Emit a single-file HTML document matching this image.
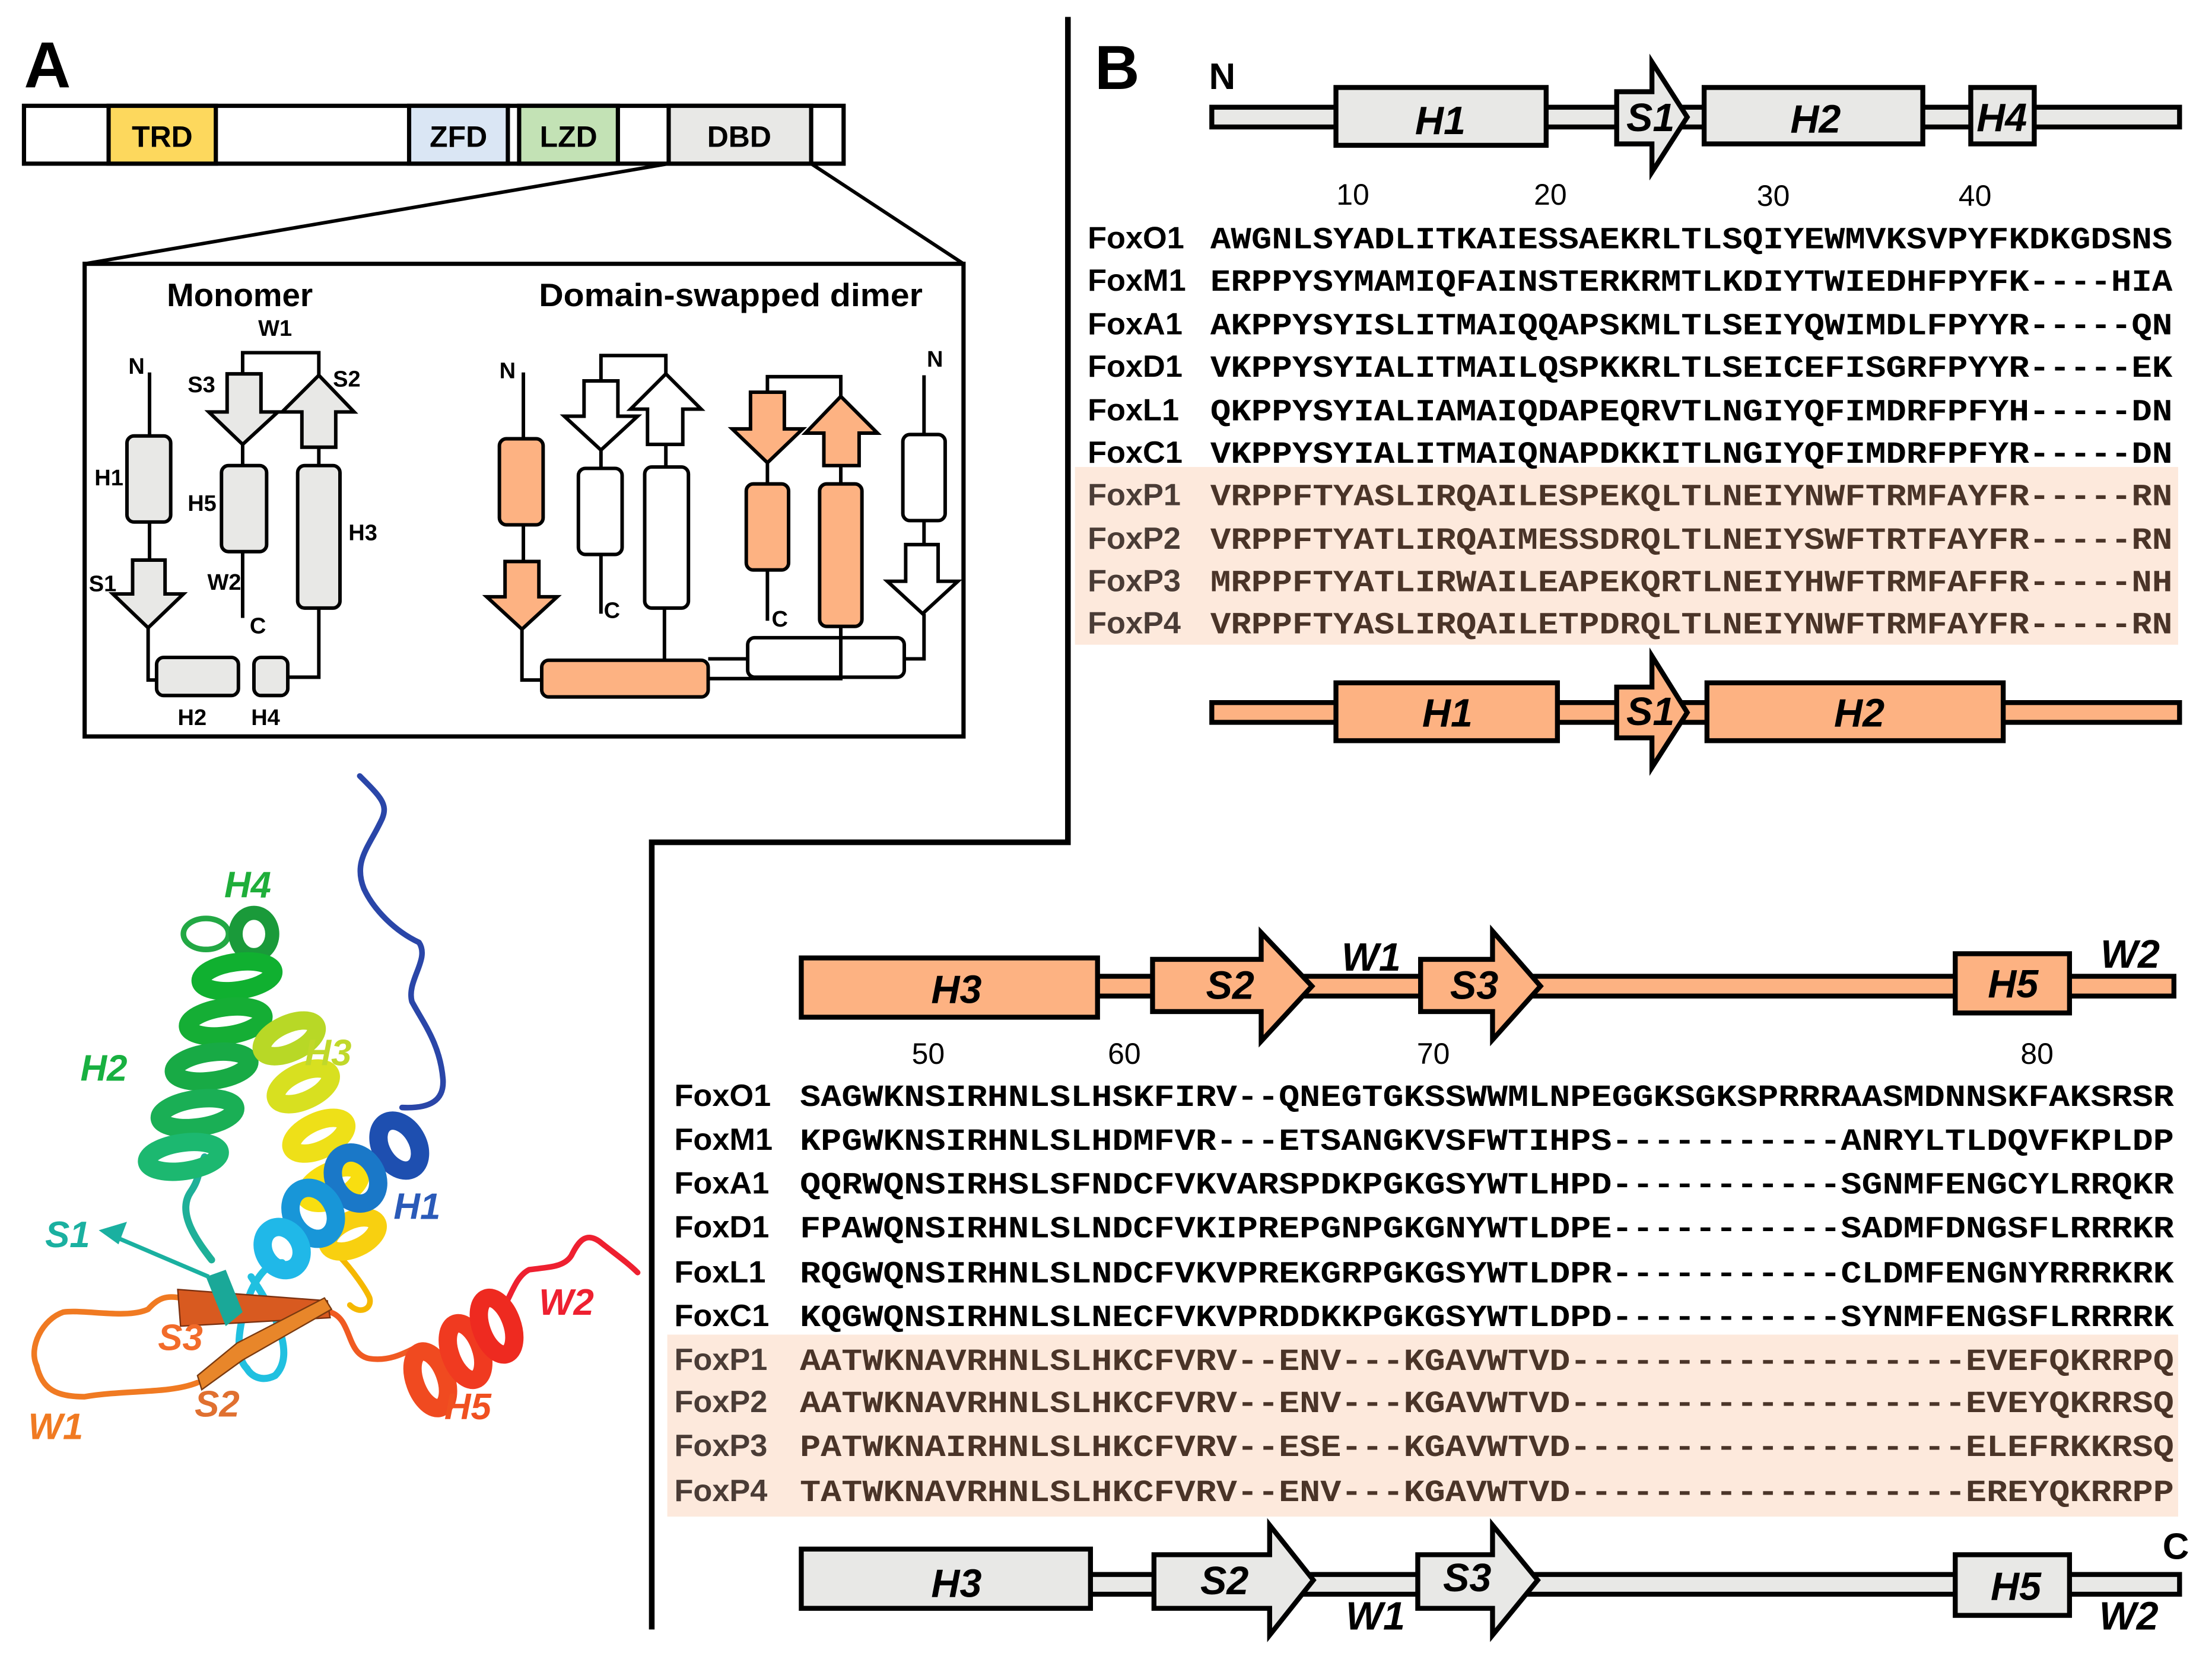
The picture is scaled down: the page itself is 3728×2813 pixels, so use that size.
<!DOCTYPE html>
<html><head><meta charset="utf-8"><style>
html,body{margin:0;padding:0;background:#fff;}
svg{display:block;}
.sn{font-family:"Liberation Sans",sans-serif;font-weight:bold;}
.it{font-family:"Liberation Sans",sans-serif;font-weight:bold;font-style:italic;}
.mono{font-family:"Liberation Mono",monospace;font-weight:bold;}
</style></head><body>
<svg width="3728" height="2813" viewBox="0 0 1568 1183" preserveAspectRatio="none" xmlns="http://www.w3.org/2000/svg">
<rect width="1568" height="1183" fill="#fff"/>
<path d="M757 12 V597 H462 V1155" fill="none" stroke="#000" stroke-width="4"/>

<!-- Panel A -->
<text x="17" y="62" class="sn" font-size="46">A</text>
<g stroke="#000" stroke-width="3">
<rect x="17" y="75" width="581" height="41" fill="#fff"/>
<rect x="77" y="75" width="76" height="41" fill="#fdd85d"/>
<rect x="290" y="75" width="70" height="41" fill="#dae6f4"/>
<rect x="368" y="75" width="70" height="41" fill="#c3e2b5"/>
<rect x="474" y="75" width="101" height="41" fill="#e8e8e6"/>
</g>
<g class="sn" font-size="21" text-anchor="middle">
<text x="115" y="104">TRD</text><text x="325" y="104">ZFD</text><text x="403" y="104">LZD</text><text x="524" y="104">DBD</text>
</g>
<line x1="474" y1="116" x2="60" y2="187" stroke="#000" stroke-width="2.5"/>
<line x1="575" y1="116" x2="683" y2="187" stroke="#000" stroke-width="2.5"/>
<rect x="60" y="187" width="623" height="335" fill="#fff" stroke="#000" stroke-width="3"/>
<text x="170" y="217" class="sn" font-size="23" text-anchor="middle">Monomer</text>
<text x="518" y="217" class="sn" font-size="23" text-anchor="middle" textLength="272" lengthAdjust="spacingAndGlyphs">Domain-swapped dimer</text>

<!-- Monomer -->
<g stroke="#000" stroke-width="2.5" fill="none">
<path d="M106 264 V397"/>
<path d="M105 445 V482 H111"/>
<path d="M204 480 H226 V431"/>
<path d="M226 330 V317"/>
<path d="M226 266 V250 H172 V265"/>
<path d="M172 315 V330"/>
<path d="M172 391 V438"/>
</g>
<g stroke="#000" stroke-width="2.5" fill="#e8e8e6">
<rect x="90" y="309" width="31" height="61" rx="5"/>
<polygon points="94,397 117,397 117,421 130,421 105,445 80,421 94,421"/>
<rect x="111" y="466" width="58" height="27" rx="5"/>
<rect x="180" y="466" width="24" height="27" rx="5"/>
<rect x="211" y="330" width="30" height="101" rx="5"/>
<polygon points="214,317 238,317 238,292 251,292 226,266 200,292 214,292"/>
<polygon points="161,265 185,265 185,292 197,292 172,315 148,292 161,292"/>
<rect x="157" y="330" width="32" height="61" rx="5"/>
</g>
<g class="sn" font-size="16">
<text x="91" y="265">N</text><text x="133" y="278">S3</text><text x="236" y="274">S2</text>
<text x="183" y="238">W1</text><text x="67" y="344">H1</text><text x="133" y="362">H5</text>
<text x="247" y="383">H3</text><text x="63" y="419">S1</text><text x="147" y="418">W2</text>
<text x="177" y="449">C</text><text x="126" y="514">H2</text><text x="178" y="514">H4</text>
</g>

<!-- Dimer -->
<g stroke="#000" stroke-width="2.5" fill="none">
<path d="M371 264 V311"/>
<path d="M371 372 V398"/>
<path d="M370 446 V482 H384"/>
<path d="M502 481 H596 V444"/>
<path d="M471 468 V431"/>
<path d="M472 331 V315"/>
<path d="M472 265 V252 H426 V270"/>
<path d="M426 319 V332"/>
<path d="M426 393 V435"/>
<path d="M502 467 H530"/>
<path d="M641 467 H655 V435"/>
<path d="M544 278 V267 H596 V281"/>
<path d="M544 328 V343"/>
<path d="M544 404 V440"/>
<path d="M596 330 V343"/>
<path d="M655 266 V308"/>
<path d="M655 369 V386"/>
</g>
<g stroke="#000" stroke-width="2.5">
<rect x="354" y="311" width="31" height="61" rx="5" fill="#fdb282"/>
<polygon points="358,398 382,398 382,423 395,423 370,446 345,423 358,423" fill="#fdb282"/>
<rect x="530" y="452" width="111" height="28" rx="5" fill="#fff"/>
<rect x="384" y="468" width="118" height="26" rx="5" fill="#fdb282"/>
<rect x="457" y="331" width="31" height="100" rx="5" fill="#fff"/>
<polygon points="459,315 484,315 484,290 497,290 472,265 447,290 459,290" fill="#fff"/>
<polygon points="414,270 438,270 438,295 452,295 426,319 400,295 414,295" fill="#fff"/>
<rect x="410" y="332" width="31" height="61" rx="5" fill="#fff"/>
<polygon points="532,278 556,278 556,304 569,304 544,328 519,304 532,304" fill="#fdb282"/>
<polygon points="584,330 609,330 609,307 622,307 596,281 571,307 584,307" fill="#fdb282"/>
<rect x="581" y="343" width="30" height="101" rx="5" fill="#fdb282"/>
<rect x="529" y="343" width="30" height="61" rx="5" fill="#fdb282"/>
<rect x="640" y="308" width="30" height="61" rx="5" fill="#fff"/>
<polygon points="642,386 665,386 665,412 679,412 654,435 629,412 642,412" fill="#fff"/>
</g>
<line x1="596" y1="444" x2="596" y2="481" stroke="#000" stroke-width="2.5"/>
<g class="sn" font-size="16">
<text x="354" y="268">N</text><text x="657" y="260">N</text><text x="428" y="438">C</text><text x="547" y="444">C</text>
</g>

<!-- Protein cartoon -->
<g fill="none" stroke-linecap="round" stroke-linejoin="round">
<path d="M255 550 C270 565 275 570 271 580 C262 600 250 610 258 630 C265 645 280 660 297 668 C305 680 288 695 292 710 C300 725 312 740 314 765 C315 780 305 786 285 785" stroke="#2a46a8" stroke-width="4"/>
<path d="M26 968 C20 955 30 935 45 930 C60 928 90 935 105 928 C112 920 118 918 128 920" stroke="#f07a22" stroke-width="4"/>
<path d="M26 968 C30 985 40 990 60 990 C90 985 120 988 140 980" stroke="#f07a22" stroke-width="4"/>
<path d="M234 930 C250 935 245 960 262 963 C275 965 285 960 295 955" stroke="#f05a22" stroke-width="4"/>
<path d="M355 930 C362 920 365 905 375 900 C390 898 400 898 405 890 C410 880 415 873 425 880 C435 888 445 895 452 902" stroke="#ee2030" stroke-width="4"/>
<path d="M150 893 C140 880 125 860 135 845 C142 835 140 830 145 820" stroke="#1eb098" stroke-width="5"/>
<path d="M175 970 C165 960 170 935 178 915 C185 900 192 895 200 895" stroke="#20c0e0" stroke-width="5"/>
<path d="M178 905 C195 930 210 960 195 975 C185 980 178 975 175 970" stroke="#20c0e0" stroke-width="5"/>
<path d="M240 890 C250 900 260 915 262 920 C264 928 255 932 248 925" stroke="#f5b800" stroke-width="4"/>
</g>
<polygon points="126,914 232,922 234,934 128,940" fill="#d85a20" stroke="#7a3010" stroke-width="1"/>
<polygon points="140,975 168,952 230,920 235,928 172,964 143,985" fill="#e8862a" stroke="#7a3a10" stroke-width="1"/>
<polygon points="146,905 160,900 172,930 160,940" fill="#1aa898"/>
<g fill="none" stroke-width="13">
<ellipse cx="146" cy="662" rx="16" ry="11" stroke="#22a844" stroke-width="4"/>
<ellipse cx="180" cy="662" rx="13" ry="15" stroke="#1a9a3a" stroke-width="10"/>
<ellipse cx="168" cy="692" rx="26" ry="10" transform="rotate(-8 168 692)" stroke="#10b030"/>
<ellipse cx="160" cy="724" rx="27" ry="10" transform="rotate(-8 160 724)" stroke="#15ae35"/>
<ellipse cx="150" cy="756" rx="27" ry="10" transform="rotate(-8 150 756)" stroke="#18aa45"/>
<ellipse cx="140" cy="789" rx="27" ry="10" transform="rotate(-8 140 789)" stroke="#1aaf55"/>
<ellipse cx="130" cy="820" rx="26" ry="10" transform="rotate(-8 130 820)" stroke="#1cb870"/>
<ellipse cx="205" cy="736" rx="21" ry="10" transform="rotate(-25 205 736)" stroke="#b8d826"/>
<ellipse cx="215" cy="770" rx="21" ry="10" transform="rotate(-25 215 770)" stroke="#d8e020"/>
<ellipse cx="226" cy="805" rx="21" ry="10" transform="rotate(-25 226 805)" stroke="#eee018"/>
<ellipse cx="236" cy="840" rx="21" ry="10" transform="rotate(-25 236 840)" stroke="#f8de10"/>
<ellipse cx="250" cy="875" rx="19" ry="10" transform="rotate(-25 250 875)" stroke="#f8d010"/>
<ellipse cx="283" cy="812" rx="13" ry="19" transform="rotate(-30 283 812)" stroke="#1e4fb0"/>
<ellipse cx="252" cy="835" rx="15" ry="19" transform="rotate(-30 252 835)" stroke="#1a78c8"/>
<ellipse cx="222" cy="860" rx="15" ry="19" transform="rotate(-30 222 860)" stroke="#1896d8"/>
<ellipse cx="200" cy="885" rx="13" ry="16" transform="rotate(-30 200 885)" stroke="#20b8e8"/>
<ellipse cx="305" cy="978" rx="11" ry="21" transform="rotate(-20 305 978)" stroke="#f04a20"/>
<ellipse cx="330" cy="958" rx="11" ry="21" transform="rotate(-20 330 958)" stroke="#f03a20"/>
<ellipse cx="352" cy="940" rx="11" ry="21" transform="rotate(-20 352 940)" stroke="#ee2a20"/>
</g>
<line x1="148" y1="905" x2="80" y2="876" stroke="#1ab0a0" stroke-width="3"/>
<polygon points="70,872 90,866 84,882" fill="#1ab0a0"/>
<g class="it" font-size="26">
<text x="159" y="636" fill="#1fae3a">H4</text>
<text x="57" y="766" fill="#18b040">H2</text>
<text x="216" y="755" fill="#c0d82a">H3</text>
<text x="279" y="864" fill="#2a5ab8">H1</text>
<text x="32" y="884" fill="#1ab0a0">S1</text>
<text x="112" y="957" fill="#f26b2a">S3</text>
<text x="138" y="1004" fill="#e07030">S2</text>
<text x="20" y="1020" fill="#f07a22">W1</text>
<text x="382" y="932" fill="#ee2030">W2</text>
<text x="315" y="1006" fill="#f05020">H5</text>
</g>

<!-- Panel B top -->
<text x="776" y="63" class="sn" font-size="44">B</text>
<text x="857" y="63" class="sn" font-size="26">N</text>
<g stroke="#000" stroke-width="3.5" fill="#e8e8e6">
<rect x="859" y="76" width="686" height="14"/>
<rect x="947" y="62" width="149" height="41"/>
<polygon points="1146,65 1171,65 1171,44 1196,83 1171,122 1171,102 1146,102"/>
<rect x="1208" y="62" width="155" height="40"/>
<rect x="1397" y="62" width="45" height="40"/>
</g>
<g class="it" font-size="28" text-anchor="middle">
<text x="1021" y="95">H1</text><text x="1170" y="93">S1</text><text x="1287" y="94">H2</text><text x="1419" y="93">H4</text>
</g>
<g font-family="Liberation Sans,sans-serif" font-size="21" text-anchor="middle">
<text x="959" y="145">10</text><text x="1099" y="145">20</text><text x="1257" y="146">30</text><text x="1400" y="146">40</text>
</g>
<rect x="762" y="331" width="782" height="126" fill="#fde9dc"/>
<g class="sn" font-size="22">
<text x="771" y="176">FoxO1</text><text x="771" y="206">FoxM1</text><text x="771" y="237">FoxA1</text>
<text x="771" y="267">FoxD1</text><text x="771" y="298">FoxL1</text><text x="771" y="328">FoxC1</text>
<g fill="#4a3c36"><text x="771" y="358">FoxP1</text><text x="771" y="389">FoxP2</text><text x="771" y="419">FoxP3</text><text x="771" y="449">FoxP4</text></g>
</g>
<g class="mono" font-size="22">
<text x="858" y="176" textLength="682" lengthAdjust="spacingAndGlyphs">AWGNLSYADLITKAIESSAEKRLTLSQIYEWMVKSVPYFKDKGDSNS</text>
<text x="858" y="206" textLength="682" lengthAdjust="spacingAndGlyphs">ERPPYSYMAMIQFAINSTERKRMTLKDIYTWIEDHFPYFK----HIA</text>
<text x="858" y="237" textLength="682" lengthAdjust="spacingAndGlyphs">AKPPYSYISLITMAIQQAPSKMLTLSEIYQWIMDLFPYYR-----QN</text>
<text x="858" y="267" textLength="682" lengthAdjust="spacingAndGlyphs">VKPPYSYIALITMAILQSPKKRLTLSEICEFISGRFPYYR-----EK</text>
<text x="858" y="298" textLength="682" lengthAdjust="spacingAndGlyphs">QKPPYSYIALIAMAIQDAPEQRVTLNGIYQFIMDRFPFYH-----DN</text>
<text x="858" y="328" textLength="682" lengthAdjust="spacingAndGlyphs">VKPPYSYIALITMAIQNAPDKKITLNGIYQFIMDRFPFYR-----DN</text>
<g fill="#4a3428">
<text x="858" y="358" textLength="682" lengthAdjust="spacingAndGlyphs">VRPPFTYASLIRQAILESPEKQLTLNEIYNWFTRMFAYFR-----RN</text>
<text x="858" y="389" textLength="682" lengthAdjust="spacingAndGlyphs">VRPPFTYATLIRQAIMESSDRQLTLNEIYSWFTRTFAYFR-----RN</text>
<text x="858" y="419" textLength="682" lengthAdjust="spacingAndGlyphs">MRPPFTYATLIRWAILEAPEKQRTLNEIYHWFTRMFAFFR-----NH</text>
<text x="858" y="449" textLength="682" lengthAdjust="spacingAndGlyphs">VRPPFTYASLIRQAILETPDRQLTLNEIYNWFTRMFAYFR-----RN</text>
</g>
</g>
<g stroke="#000" stroke-width="3.5" fill="#fdb282">
<rect x="859" y="498" width="686" height="14"/>
<rect x="947" y="484" width="157" height="41"/>
<polygon points="1146,487 1171,487 1171,465 1196,505 1171,544 1171,523 1146,523"/>
<rect x="1210" y="484" width="210" height="41"/>
</g>
<g class="it" font-size="28" text-anchor="middle">
<text x="1026" y="515">H1</text><text x="1170" y="514">S1</text><text x="1318" y="515">H2</text>
</g>

<!-- Panel B bottom -->
<g stroke="#000" stroke-width="3.5" fill="#fdb282">
<rect x="570" y="692" width="971" height="14"/>
<rect x="568" y="679" width="210" height="42"/>
<polygon points="817,680 894,680 894,661 930,699 894,738 894,717 817,717"/>
<polygon points="1007,680 1058,680 1058,660 1092,699 1058,737 1058,717 1007,717"/>
<rect x="1386" y="676" width="81" height="42"/>
</g>
<g class="it" font-size="28" text-anchor="middle">
<text x="678" y="711">H3</text><text x="872" y="708">S2</text><text x="1045" y="708">S3</text><text x="1427" y="707">H5</text>
<text x="972" y="688">W1</text><text x="1510" y="686">W2</text>
</g>
<g font-family="Liberation Sans,sans-serif" font-size="21" text-anchor="middle">
<text x="658" y="754">50</text><text x="797" y="754">60</text><text x="1016" y="754">70</text><text x="1444" y="754">80</text>
</g>
<rect x="473" y="946" width="1071" height="129" fill="#fde9dc"/>
<g class="sn" font-size="22">
<text x="478" y="784">FoxO1</text><text x="478" y="815">FoxM1</text><text x="478" y="846">FoxA1</text>
<text x="478" y="877">FoxD1</text><text x="478" y="909">FoxL1</text><text x="478" y="940">FoxC1</text>
<g fill="#4a3c36"><text x="478" y="971">FoxP1</text><text x="478" y="1001">FoxP2</text><text x="478" y="1032">FoxP3</text><text x="478" y="1064">FoxP4</text></g>
</g>
<g class="mono" font-size="22">
<text x="567" y="784" textLength="974" lengthAdjust="spacingAndGlyphs">SAGWKNSIRHNLSLHSKFIRV--QNEGTGKSSWWMLNPEGGKSGKSPRRRAASMDNNSKFAKSRSR</text>
<text x="567" y="815" textLength="974" lengthAdjust="spacingAndGlyphs">KPGWKNSIRHNLSLHDMFVR---ETSANGKVSFWTIHPS-----------ANRYLTLDQVFKPLDP</text>
<text x="567" y="846" textLength="974" lengthAdjust="spacingAndGlyphs">QQRWQNSIRHSLSFNDCFVKVARSPDKPGKGSYWTLHPD-----------SGNMFENGCYLRRQKR</text>
<text x="567" y="877" textLength="974" lengthAdjust="spacingAndGlyphs">FPAWQNSIRHNLSLNDCFVKIPREPGNPGKGNYWTLDPE-----------SADMFDNGSFLRRRKR</text>
<text x="567" y="909" textLength="974" lengthAdjust="spacingAndGlyphs">RQGWQNSIRHNLSLNDCFVKVPREKGRPGKGSYWTLDPR-----------CLDMFENGNYRRRKRK</text>
<text x="567" y="940" textLength="974" lengthAdjust="spacingAndGlyphs">KQGWQNSIRHNLSLNECFVKVPRDDKKPGKGSYWTLDPD-----------SYNMFENGSFLRRRRK</text>
<g fill="#4a3428">
<text x="567" y="971" textLength="974" lengthAdjust="spacingAndGlyphs">AATWKNAVRHNLSLHKCFVRV--ENV---KGAVWTVD-------------------EVEFQKRRPQ</text>
<text x="567" y="1001" textLength="974" lengthAdjust="spacingAndGlyphs">AATWKNAVRHNLSLHKCFVRV--ENV---KGAVWTVD-------------------EVEYQKRRSQ</text>
<text x="567" y="1032" textLength="974" lengthAdjust="spacingAndGlyphs">PATWKNAIRHNLSLHKCFVRV--ESE---KGAVWTVD-------------------ELEFRKKRSQ</text>
<text x="567" y="1064" textLength="974" lengthAdjust="spacingAndGlyphs">TATWKNAVRHNLSLHKCFVRV--ENV---KGAVWTVD-------------------EREYQKRRPP</text>
</g>
</g>
<g stroke="#000" stroke-width="3.5" fill="#e8e8e6">
<rect x="570" y="1116" width="975" height="14"/>
<rect x="568" y="1098" width="205" height="42"/>
<polygon points="818,1102 900,1102 900,1081 931,1120 900,1159 900,1140 818,1140"/>
<polygon points="1005,1102 1058,1102 1058,1081 1090,1120 1058,1159 1058,1140 1005,1140"/>
<rect x="1386" y="1102" width="81" height="43"/>
</g>
<g class="it" font-size="28" text-anchor="middle">
<text x="678" y="1132">H3</text><text x="868" y="1130">S2</text><text x="1040" y="1128">S3</text><text x="1429" y="1134">H5</text>
<text x="975" y="1155">W1</text><text x="1509" y="1155">W2</text>
</g>
<text x="1533" y="1105" class="sn" font-size="26">C</text>
</svg>
</body></html>
